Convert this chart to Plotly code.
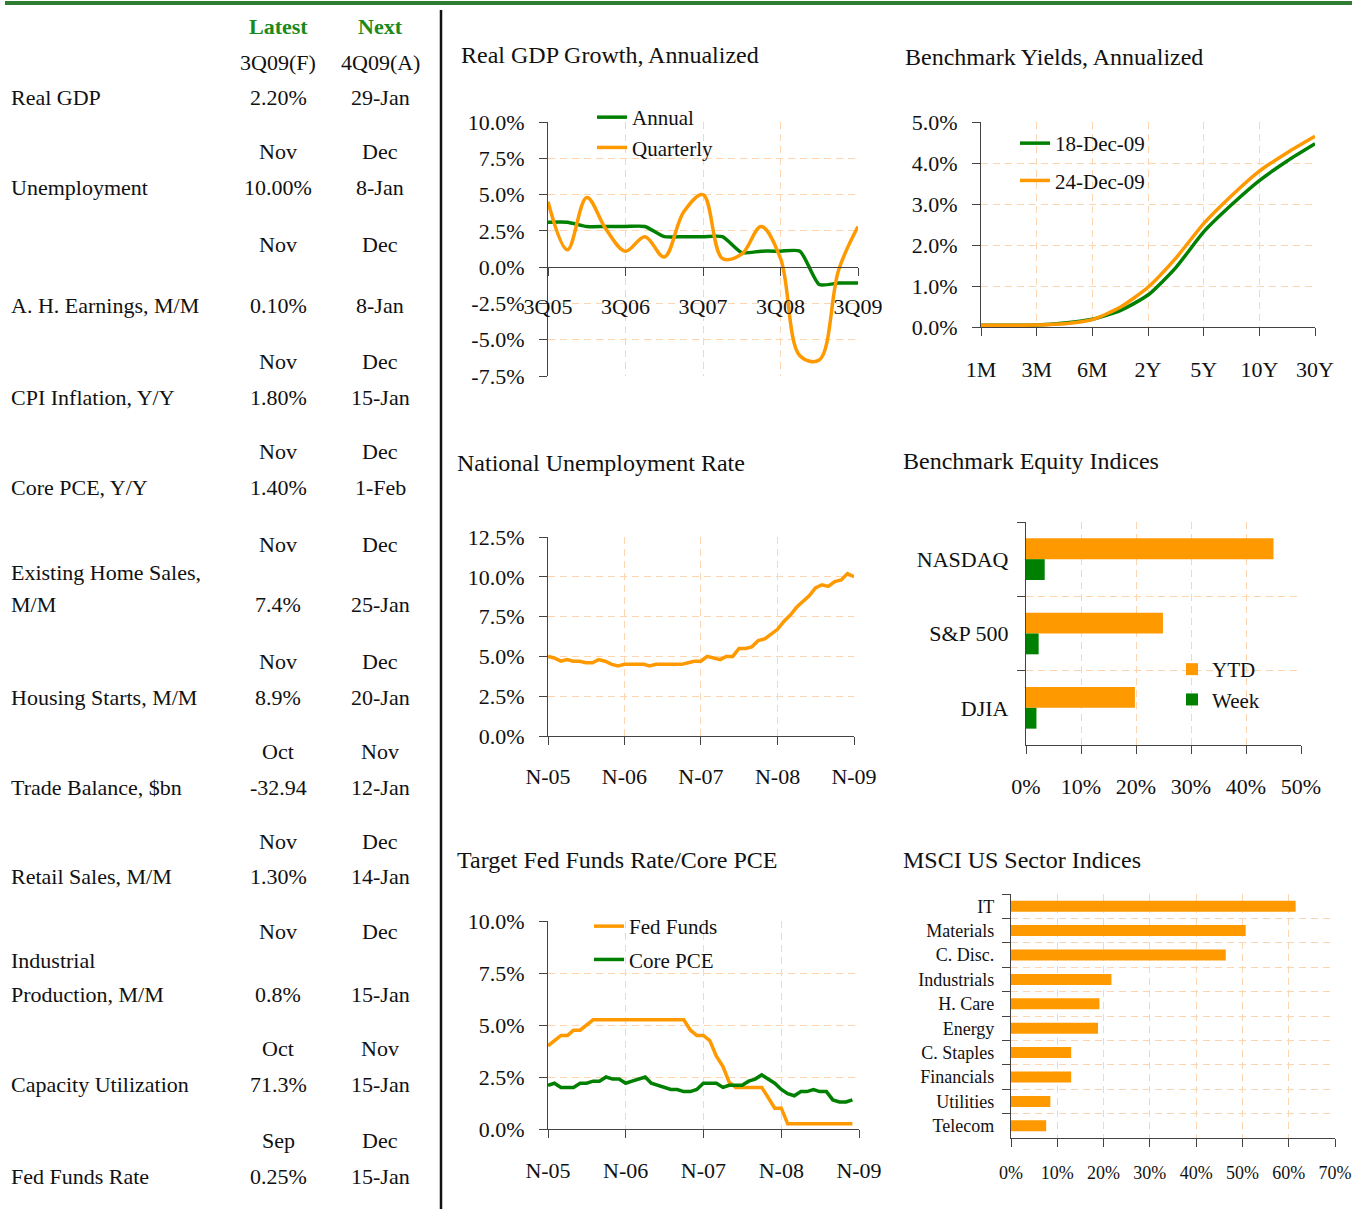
import plotly.graph_objects as go
import pandas as pd

W, H = 1362, 1209
FONT = "Liberation Serif"
ORANGE = "#FF9900"
GREEN = "#008000"
GRID = "#FDD5B1"
INK = "#111111"

# ---------------- data ----------------
# Real GDP growth (quarterly)
gdp_quarters = ["3Q05", "4Q05", "1Q06", "2Q06", "3Q06", "4Q06", "1Q07", "2Q07", "3Q07",
                "4Q07", "1Q08", "2Q08", "3Q08", "4Q08", "1Q09", "2Q09", "3Q09"]
gdp_annual = [3.1, 3.1, 2.8, 2.8, 2.8, 2.8, 2.1, 2.1, 2.1, 2.1, 1.0, 1.1, 1.1, 1.1, -1.2, -1.1, -1.1]
gdp_quarterly = [4.5, 1.2, 4.8, 2.6, 1.1, 2.1, 0.7, 3.8, 5.0, 0.6, 0.9, 2.8, 0.6, -6.1, -6.4, -0.2, 2.8]
gdp_tick_labels = ["3Q05", "3Q06", "3Q07", "3Q08", "3Q09"]
gdp_y_ticks = [-7.5, -5.0, -2.5, 0.0, 2.5, 5.0, 7.5, 10.0]

# Benchmark yields
yield_tenors = ["1M", "2M", "3M", "4M", "6M", "1Y", "2Y", "3Y", "5Y", "7Y", "10Y", "20Y", "30Y"]
yield_18dec = [0.04, 0.04, 0.05, 0.10, 0.19, 0.40, 0.78, 1.45, 2.32, 2.98, 3.57, 4.05, 4.47]
yield_24dec = [0.04, 0.04, 0.05, 0.08, 0.18, 0.48, 0.97, 1.68, 2.52, 3.20, 3.80, 4.25, 4.65]
yield_tick_labels = ["1M", "3M", "6M", "2Y", "5Y", "10Y", "30Y"]
yield_y_ticks = [0, 1, 2, 3, 4, 5]

# National unemployment rate, monthly Nov-05 .. Nov-09
unemployment = [5.0, 4.9, 4.7, 4.8, 4.7, 4.7, 4.6, 4.6, 4.8, 4.7, 4.5, 4.4,
                4.5, 4.5, 4.5, 4.5, 4.4, 4.5, 4.5, 4.5, 4.5, 4.5, 4.6, 4.7,
                4.7, 5.0, 4.9, 4.8, 5.0, 5.0, 5.5, 5.5, 5.6, 6.0, 6.1, 6.4,
                6.7, 7.2, 7.6, 8.1, 8.4, 8.8, 9.3, 9.5, 9.4, 9.7, 9.8, 10.2,
                10.0]
unemp_y_ticks = [0, 2.5, 5.0, 7.5, 10.0, 12.5]

# Target fed funds rate and core PCE, monthly Nov-05 .. Oct-09
fed_funds = [4.0, 4.25, 4.5, 4.5, 4.75, 4.75, 5.0, 5.25,
             5.25, 5.25, 5.25, 5.25, 5.25, 5.25, 5.25, 5.25, 5.25, 5.25, 5.25, 5.25, 5.25, 5.25,
             4.75, 4.5, 4.5, 4.25, 3.5, 3.0, 2.25, 2.0,
             2.0, 2.0, 2.0, 2.0,
             1.5, 1.0, 1.0,
             0.25, 0.25, 0.25, 0.25, 0.25, 0.25, 0.25, 0.25, 0.25, 0.25, 0.25]
core_pce = [2.1, 2.2, 2.0, 2.0, 2.0, 2.2, 2.2, 2.3, 2.3, 2.5, 2.4, 2.4,
            2.2, 2.3, 2.4, 2.5, 2.2, 2.1, 2.0, 1.9, 1.9, 1.8, 1.8, 1.9,
            2.2, 2.2, 2.2, 2.0, 2.1, 2.1, 2.1, 2.3, 2.4, 2.6, 2.4, 2.2,
            1.9, 1.7, 1.6, 1.8, 1.8, 1.9, 1.8, 1.8, 1.4, 1.3, 1.3, 1.4]
fed_y_ticks = [0, 2.5, 5.0, 7.5, 10.0]

month_tick_dates = ["2005-11-01", "2006-11-01", "2007-11-01", "2008-11-01", "2009-11-01"]
month_tick_labels = ["N-05", "N-06", "N-07", "N-08", "N-09"]

# Benchmark equity indices
eq_names = ["NASDAQ", "S&P 500", "DJIA"]
eq_ytd = [45.0, 24.9, 19.8]
eq_week = [3.4, 2.3, 1.9]

# MSCI US sector indices (YTD)
sectors = ["IT", "Materials", "C. Disc.", "Industrials", "H. Care", "Energy",
           "C. Staples", "Financials", "Utilities", "Telecom"]
sector_ytd = [61.5, 50.7, 46.4, 21.7, 19.1, 18.8, 13.0, 13.0, 8.5, 7.6]

# Left-hand calendar table
indicators = ["Real GDP", "Unemployment", "A. H. Earnings, M/M", "CPI Inflation, Y/Y",
              "Core PCE, Y/Y", "Existing Home Sales,<br>M/M", "Housing Starts, M/M",
              "Trade Balance, $bn", "Retail Sales, M/M", "Industrial<br>Production, M/M",
              "Capacity Utilization", "Fed Funds Rate"]
latest_period = ["3Q09(F)", "Nov", "Nov", "Nov", "Nov", "Nov", "Nov", "Oct", "Nov", "Nov", "Oct", "Sep"]
next_period = ["4Q09(A)", "Dec", "Dec", "Dec", "Dec", "Dec", "Dec", "Nov", "Dec", "Dec", "Nov", "Dec"]
latest_value = ["2.20%", "10.00%", "0.10%", "1.80%", "1.40%", "7.4%", "8.9%", "-32.94",
                "1.30%", "0.8%", "71.3%", "0.25%"]
next_date = ["29-Jan", "8-Jan", "8-Jan", "15-Jan", "1-Feb", "25-Jan", "20-Jan", "12-Jan",
             "14-Jan", "15-Jan", "15-Jan", "15-Jan"]

# ---------------- layout helpers (pixel positions) ----------------
period_row_px = [62, 152, 244, 362, 451, 544, 662, 751, 841, 931, 1048, 1140]
value_row_px = [98, 187, 305, 397, 487, 605, 697, 787, 876, 994, 1084, 1176]


def px(x):
    return x / W


def py(y):
    return 1 - y / H


def pct_labels(vals, fmt="{:.1f}%"):
    return [fmt.format(v) for v in vals]


months_unemp = pd.date_range("2005-11-01", periods=len(unemployment), freq="MS")
months_fed = pd.date_range("2005-11-01", periods=len(fed_funds), freq="MS")

tickfont = dict(family=FONT, size=22, color=INK)
smallfont = dict(family=FONT, size=18, color=INK)
AXC = "#444444"


def yaxis_cfg(top, bottom, **kw):
    d = dict(domain=[py(bottom), py(top)], showline=True, linecolor=AXC, linewidth=1.2,
             ticks="outside", ticklen=8, tickcolor=AXC, showgrid=True, gridcolor=GRID,
             griddash="7px,5px", gridwidth=1, zeroline=False, tickfont=tickfont,
             ticklabelstandoff=10, automargin=False)
    d.update(kw)
    return d


def xaxis_cfg(left, right, **kw):
    d = dict(domain=[px(left), px(right)], showline=True, linecolor=AXC, linewidth=1.2,
             ticks="outside", ticklen=8, tickcolor=AXC, showgrid=True, gridcolor=GRID,
             griddash="7px,5px", gridwidth=1, zeroline=False, tickfont=tickfont,
             ticklabelstandoff=12, automargin=False)
    d.update(kw)
    return d


fig = go.Figure()

# 1. Real GDP growth
fig.add_trace(go.Scatter(x=gdp_quarters, y=gdp_annual, name="Annual", mode="lines",
                         line=dict(color=GREEN, width=3.5, shape="spline", smoothing=0.6),
                         xaxis="x", yaxis="y", legend="legend", legendgroup="a"))
fig.add_trace(go.Scatter(x=gdp_quarters, y=gdp_quarterly, name="Quarterly", mode="lines",
                         line=dict(color=ORANGE, width=3.5, shape="spline", smoothing=1),
                         xaxis="x", yaxis="y", legend="legend", legendgroup="b"))

# 2. Benchmark yields
fig.add_trace(go.Scatter(x=yield_tenors, y=yield_18dec, name="18-Dec-09", mode="lines",
                         line=dict(color=GREEN, width=3.5, shape="spline", smoothing=0.6),
                         xaxis="x2", yaxis="y2", legend="legend2", legendgroup="c"))
fig.add_trace(go.Scatter(x=yield_tenors, y=yield_24dec, name="24-Dec-09", mode="lines",
                         line=dict(color=ORANGE, width=3.5, shape="spline", smoothing=0.6),
                         xaxis="x2", yaxis="y2", legend="legend2", legendgroup="d"))

# 3. Unemployment
fig.add_trace(go.Scatter(x=months_unemp, y=unemployment, name="Unemployment", mode="lines",
                         line=dict(color=ORANGE, width=3.5),
                         xaxis="x3", yaxis="y3", showlegend=False))

# 4. Equity indices
fig.add_trace(go.Bar(y=eq_names, x=eq_ytd, name="YTD", orientation="h",
                     marker=dict(color=ORANGE, line=dict(width=0)),
                     xaxis="x4", yaxis="y4", legend="legend4", legendgroup="e"))
fig.add_trace(go.Bar(y=eq_names, x=eq_week, name="Week", orientation="h",
                     marker=dict(color=GREEN, line=dict(width=0)),
                     xaxis="x4", yaxis="y4", legend="legend4", legendgroup="f"))

# 5. Fed funds / core PCE
fig.add_trace(go.Scatter(x=months_fed, y=fed_funds, name="Fed Funds", mode="lines",
                         line=dict(color=ORANGE, width=3.5),
                         xaxis="x5", yaxis="y5", legend="legend3", legendgroup="g"))
fig.add_trace(go.Scatter(x=months_fed, y=core_pce, name="Core PCE", mode="lines",
                         line=dict(color=GREEN, width=3.5),
                         xaxis="x5", yaxis="y5", legend="legend3", legendgroup="h"))

# 6. MSCI sectors
fig.add_trace(go.Bar(y=sectors, x=sector_ytd, name="MSCI", orientation="h",
                     marker=dict(color=ORANGE, line=dict(width=0)), width=0.45,
                     xaxis="x6", yaxis="y6", showlegend=False))

legend_common = dict(font=dict(family=FONT, size=21, color=INK), bgcolor="rgba(0,0,0,0)",
                     borderwidth=0, xanchor="left", yanchor="top", traceorder="grouped")

fig.update_layout(
    width=W, height=H, margin=dict(l=0, r=0, t=0, b=0, pad=0, autoexpand=False),
    paper_bgcolor="white", plot_bgcolor="white",
    font=dict(family=FONT, color=INK),
    barmode="group", bargap=0.44, bargroupgap=0,
    # GDP
    xaxis=xaxis_cfg(548, 858, type="category", range=[0, len(gdp_quarters) - 1],
                    tickvals=gdp_tick_labels, ticktext=gdp_tick_labels,
                    anchor="free", position=py(267), ticklabelstandoff=11),
    yaxis=yaxis_cfg(122, 376, range=[-7.5, 10], tickvals=gdp_y_ticks,
                    ticktext=pct_labels(gdp_y_ticks), anchor="x"),
    # Yields
    xaxis2=xaxis_cfg(981, 1315, type="category", range=[0, len(yield_tenors) - 1],
                     tickvals=yield_tick_labels, ticktext=yield_tick_labels, anchor="y2",
                     ticklabelstandoff=14),
    yaxis2=yaxis_cfg(122, 327, range=[0, 5], tickvals=yield_y_ticks,
                     ticktext=pct_labels(yield_y_ticks), anchor="x2"),
    # Unemployment
    xaxis3=xaxis_cfg(548, 854, type="date", range=[month_tick_dates[0], month_tick_dates[-1]],
                     tickvals=month_tick_dates, ticktext=month_tick_labels, anchor="y3"),
    yaxis3=yaxis_cfg(537, 736, range=[0, 12.5], tickvals=unemp_y_ticks,
                     ticktext=pct_labels(unemp_y_ticks), anchor="x3"),
    # Equity
    xaxis4=xaxis_cfg(1026, 1301, range=[0, 50], dtick=10, ticksuffix="%", anchor="y4",
                     ticklabelstandoff=13),
    yaxis4=yaxis_cfg(522, 745, type="category", autorange="reversed", tickson="boundaries",
                     anchor="x4", ticklabelstandoff=12),
    # Fed funds
    xaxis5=xaxis_cfg(548, 859, type="date", range=[month_tick_dates[0], month_tick_dates[-1]],
                     tickvals=month_tick_dates, ticktext=month_tick_labels, anchor="y5",
                     ticklabelstandoff=13),
    yaxis5=yaxis_cfg(921, 1129, range=[0, 10], tickvals=fed_y_ticks,
                     ticktext=pct_labels(fed_y_ticks), anchor="x5"),
    # MSCI
    xaxis6=xaxis_cfg(1011, 1335, range=[0, 70], dtick=10, ticksuffix="%", anchor="y6",
                     tickfont=smallfont, ticklabelstandoff=10),
    yaxis6=yaxis_cfg(894, 1138, type="category", autorange="reversed", tickson="boundaries",
                     anchor="x6", tickfont=smallfont, ticklabelstandoff=12),
    legend=dict(legend_common, x=px(592), y=py(97), tracegroupgap=0),
    legend2=dict(legend_common, x=px(1015), y=py(123), tracegroupgap=7),
    legend3=dict(legend_common, x=px(589), y=py(906), tracegroupgap=3),
    legend4=dict(legend_common, x=px(1172), y=py(649), tracegroupgap=0),
)

# Decorative frame lines
fig.add_shape(type="line", xref="paper", yref="paper", x0=px(5), x1=px(1352), y0=py(3), y1=py(3),
              line=dict(color="#2E7D32", width=4))
fig.add_shape(type="line", xref="paper", yref="paper", x0=px(441), x1=px(441), y0=py(10), y1=py(1209),
              line=dict(color="#111111", width=2.5))

# Chart titles
titles = [("Real GDP Growth, Annualized", 461, 55),
          ("Benchmark Yields, Annualized", 905, 57),
          ("National Unemployment Rate", 457, 463),
          ("Benchmark Equity Indices", 903, 461),
          ("Target Fed Funds Rate/Core PCE", 457, 860),
          ("MSCI US Sector Indices", 903, 860)]
for text, x0, y0 in titles:
    fig.add_annotation(text=text, x=px(x0 - 2), y=py(y0), xref="paper", yref="paper",
                       xanchor="left", yanchor="middle", showarrow=False,
                       font=dict(family=FONT, size=24, color=INK))

# Table
COL_LATEST, COL_NEXT = 278, 380
tfont = dict(family=FONT, size=22, color=INK)
hfont = dict(family=FONT, size=22, color="#1A8A1A")
for txt, cx in (("<b>Latest</b>", COL_LATEST), ("<b>Next</b>", COL_NEXT)):
    fig.add_annotation(text=txt, x=px(cx), y=py(27), xref="paper", yref="paper",
                       xanchor="center", yanchor="middle", showarrow=False, font=hfont)

for i, name in enumerate(indicators):
    lines = name.split("<br>")
    for j, line in enumerate(lines):
        yy = value_row_px[i] - 33 * (len(lines) - 1 - j)
        fig.add_annotation(text=line, x=px(9), y=py(yy), xref="paper", yref="paper",
                           xanchor="left", yanchor="middle", showarrow=False, font=tfont)
    for txt, cx, yy in ((latest_period[i], COL_LATEST, period_row_px[i]),
                        (next_period[i], COL_NEXT, period_row_px[i]),
                        (latest_value[i], COL_LATEST, value_row_px[i]),
                        (next_date[i], COL_NEXT, value_row_px[i])):
        fig.add_annotation(text=txt, x=px(cx), y=py(yy), xref="paper", yref="paper",
                           xanchor="center", yanchor="middle", showarrow=False, font=tfont)

fig.write_html("out.html", config={"displayModeBar": False},
               post_script="document.body.style.margin='0px';")
